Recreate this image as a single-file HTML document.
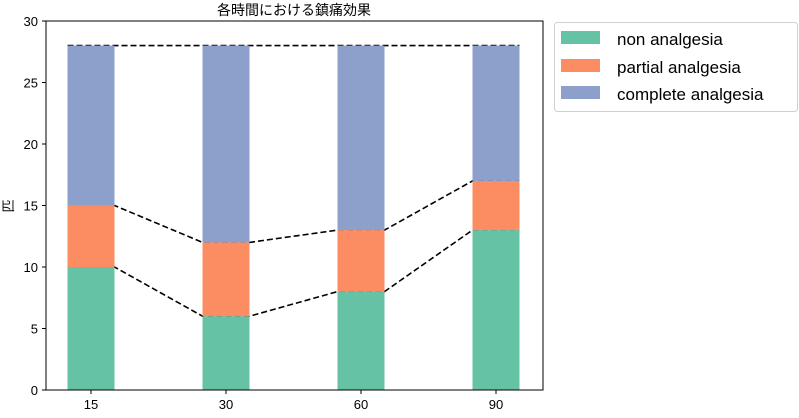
<!DOCTYPE html>
<html><head><meta charset="utf-8"><style>
body{margin:0;background:#fff;}
svg text{font-family:"Liberation Sans","Noto Sans CJK JP",sans-serif;fill:#000;}
</style></head><body>
<svg width="799" height="413">
<script>
const categories=["15","30","60","90"];
const nonVals=[10,6,8,13];
const partialVals=[5,6,5,4];
const completeVals=[13,16,15,11];
const yTicks=[0,5,10,15,20,25,30];
</script>
<g id="g"></g>
<script>
(function(){
const NS="http://www.w3.org/2000/svg";
const g=document.getElementById('g');
const L=46,R=543,T=21,B=390,yMax=30;
const y=v=>B-(B-T)*v/yMax;
const x=i=>91+135*i;
const bw=47;
function mk(tag,attrs,parent){const e=document.createElementNS(NS,tag);for(const k in attrs)e.setAttribute(k,attrs[k]);(parent||g).appendChild(e);return e;}
const cum1=nonVals, cum2=nonVals.map((v,i)=>v+partialVals[i]), cum3=cum2.map((v,i)=>v+completeVals[i]);
[cum1,cum2,cum3].forEach((arr,k)=>{
 const pts=[];
 arr.forEach((v,i)=>{pts.push((x(i)-bw/2)+','+y(v));pts.push((x(i)+bw/2)+','+y(v));});
 const p=mk('polyline',{points:pts.join(' '),fill:'none',stroke:'#000','stroke-width':1.6,'stroke-dasharray':'6,3'});
 
 
});
const cols=['#66c2a5','#fc8d62','#8da0cb'];
categories.forEach((c,i)=>{
 let base=0;
 [nonVals[i],partialVals[i],completeVals[i]].forEach((v,k)=>{
  const r=mk('rect',{x:x(i)-bw/2,y:y(base+v),width:bw,height:y(base)-y(base+v),fill:cols[k]});
  
  
  base+=v;
 });
 mk('line',{x1:x(i),x2:x(i),y1:B,y2:B+4,stroke:'#000'});
 const t=mk('text',{x:x(i),y:B+19,'text-anchor':'middle','font-size':13});
 t.textContent=c;
 
 
});
yTicks.forEach(v=>{
 mk('line',{x1:L-4,x2:L,y1:y(v),y2:y(v),stroke:'#000'});
 const t=mk('text',{x:L-8,y:y(v)+5,'text-anchor':'end','font-size':13});
 t.textContent=v;
 
 
});
mk('rect',{x:L,y:T,width:R-L,height:B-T,fill:'none',stroke:'#000','stroke-width':1});
})();
</script>
<text x="294" y="15" text-anchor="middle" font-size="14">各時間における鎮痛効果</text>
<text transform="translate(13,206) rotate(-90)" text-anchor="middle" font-size="13">匹</text>
<g>
<rect x="554.5" y="22.5" width="243" height="89" rx="3" fill="#fff" stroke="#d0d0d0"/>
<rect x="561" y="31" width="39" height="13" fill="#66c2a5"/>
<text x="617" y="45" font-size="17">non analgesia</text>
<rect x="561" y="59" width="39" height="13" fill="#fc8d62"/>
<text x="617" y="73" font-size="17">partial analgesia</text>
<rect x="561" y="86" width="39" height="13" fill="#8da0cb"/>
<text x="617" y="100" font-size="17">complete analgesia</text>
</g>
</svg>
</body></html>
